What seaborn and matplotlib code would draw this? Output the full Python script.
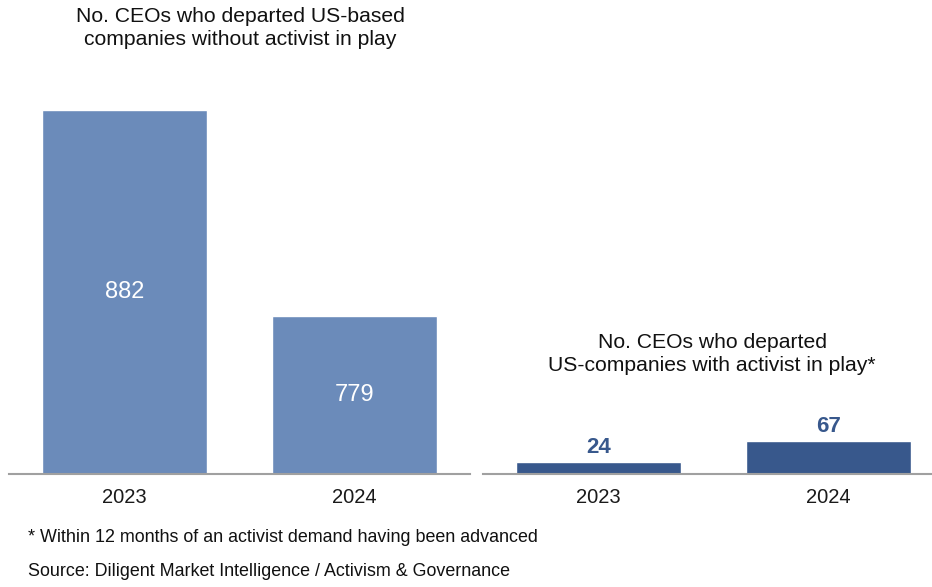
import matplotlib
matplotlib.use("Agg")
import matplotlib.pyplot as plt
import seaborn as sns
import pandas as pd

years = ["2023", "2024"]
without_activist = [882, 779]
with_activist = [24, 67]

title_left = "No. CEOs who departed US-based\ncompanies without activist in play"
title_right = "No. CEOs who departed\nUS-companies with activist in play*"
footnote = "* Within 12 months of an activist demand having been advanced"
source = "Source: Diligent Market Intelligence / Activism & Governance"

sns.set_style("white")
plt.rcParams['font.family'] = ['Liberation Sans', 'DejaVu Sans']

W, H = 932, 587
fig = plt.figure(figsize=(W / 100, H / 100), dpi=100)

base_y = 474
ax1 = fig.add_axes([9 / W, 1 - base_y / H, (470 - 9) / W, base_y / H])
ax2 = fig.add_axes([483 / W, 1 - base_y / H, (944 - 483) / W, base_y / H])

c_light = "#6b8bba"
c_dark = "#38588c"

df1 = pd.DataFrame({"year": years, "value": without_activist})
df2 = pd.DataFrame({"year": years, "value": with_activist})

sns.barplot(data=df1, x="year", y="value", color=c_light, saturation=1, width=0.715, ax=ax1)
sns.barplot(data=df2, x="year", y="value", color=c_dark, saturation=1, width=0.715, ax=ax2)

ax1.set_ylim(700, 700 + base_y / 2)
ax2.set_ylim(0, base_y / 0.5)

for ax in (ax1, ax2):
    ax.set_xlim(-0.5, 1.5)
    ax.set_xlabel("")
    ax.set_ylabel("")
    ax.set_yticks([])
    for s in ("top", "left", "right"):
        ax.spines[s].set_visible(False)
    ax.spines["bottom"].set_color("#a0a0a0")
    ax.spines["bottom"].set_linewidth(1.5)
    ax.tick_params(axis="x", length=0, pad=10, labelsize=14.5, labelcolor="#1a1a1a")
    ax.patch.set_alpha(0)

for i, v in enumerate(without_activist):
    ax1.text(i, (700 + v) / 2, f"{v}", ha="center", va="center", color="white", fontsize=17)

for i, v in enumerate(with_activist):
    ax2.text(i, v + 29, f"{v}", ha="center", va="center",
             color=c_dark, fontsize=16, fontweight="bold")

fig.text(240 / W, 1 - 28 / H, title_left, ha="center", va="center", fontsize=15.2,
         color="#111111", linespacing=1.3)
fig.text(712 / W, 1 - 354 / H, title_right, ha="center", va="center", fontsize=15.2,
         color="#111111", linespacing=1.3)
fig.text(28 / W, 1 - 538 / H, footnote, ha="left", va="center", fontsize=12.9, color="#111111")
fig.text(28 / W, 1 - 572 / H, source, ha="left", va="center", fontsize=12.9, color="#111111")

fig.savefig("out.png", dpi=100)
